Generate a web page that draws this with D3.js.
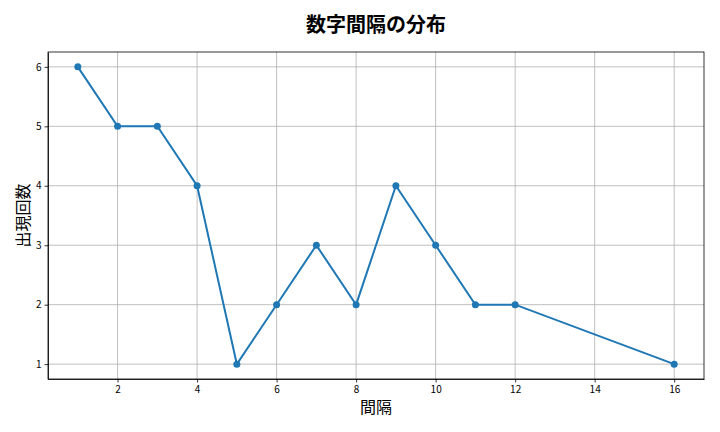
<!DOCTYPE html>
<html>
<head>
<meta charset="utf-8">
<script src="https://cdn.jsdelivr.net/npm/d3@7"></script>
<style>
body { margin: 0; background: #fff; }
text { font-family: "Noto Sans CJK JP", "DejaVu Sans", sans-serif; }
.grid line { stroke: #b0b0b0; stroke-width: 0.8; }
.axis path, .axis line { stroke: #000; stroke-width: 0.8; }
.axis text { font-size: 10px; fill: #000; }
</style>
</head>
<body>
<div id="chart"></div>
<script>
// data
var gaps = [1, 2, 3, 4, 5, 6, 7, 8, 9, 10, 11, 12, 16];
var counts = [6, 5, 5, 4, 1, 2, 3, 2, 4, 3, 2, 2, 1];
var xTicks = [2, 4, 6, 8, 10, 12, 14, 16];
var yTicks = [1, 2, 3, 4, 5, 6];

var W = 720, H = 432;
var m = {left: 48, right: 16, top: 52, bottom: 53};
var w = W - m.left - m.right, h = H - m.top - m.bottom;

var svg = d3.select("#chart").append("svg")
  .attr("width", W).attr("height", H);
var g = svg.append("g").attr("transform", "translate(" + m.left + "," + m.top + ")");

var x = d3.scaleLinear().domain([0.25, 16.75]).range([0, w]);
var y = d3.scaleLinear().domain([0.75, 6.25]).range([h, 0]);

// grid
g.append("g").attr("class", "grid").selectAll("line").data(xTicks).enter().append("line")
  .attr("x1", function(d) { return x(d); }).attr("x2", function(d) { return x(d); })
  .attr("y1", 0).attr("y2", h);
g.append("g").attr("class", "grid").selectAll("line").data(yTicks).enter().append("line")
  .attr("y1", function(d) { return y(d); }).attr("y2", function(d) { return y(d); })
  .attr("x1", 0).attr("x2", w);

// axes
g.append("g").attr("class", "axis")
  .attr("transform", "translate(0," + h + ")")
  .call(d3.axisBottom(x).tickValues(xTicks).tickSize(3.5).tickSizeOuter(0).tickPadding(3).tickFormat(d3.format("d")));
g.append("g").attr("class", "axis")
  .call(d3.axisLeft(y).tickValues(yTicks).tickSize(3.5).tickSizeOuter(0).tickPadding(3).tickFormat(d3.format("d")));
g.append("rect").attr("width", w).attr("height", h)
  .attr("fill", "none").attr("stroke", "#000").attr("stroke-width", 0.8);

// line
var data = gaps.map(function(d, i) { return {x: d, y: counts[i]}; });
g.append("path").datum(data)
  .attr("fill", "none").attr("stroke", "#1f77b4").attr("stroke-width", 2)
  .attr("d", d3.line().x(function(d) { return x(d.x); }).y(function(d) { return y(d.y); }));
g.selectAll("circle").data(data).enter().append("circle")
  .attr("cx", function(d) { return x(d.x); })
  .attr("cy", function(d) { return y(d.y); })
  .attr("r", 3.5).attr("fill", "#1f77b4");

// labels
svg.append("text").attr("x", m.left + w / 2).attr("y", 32)
  .attr("text-anchor", "middle").attr("font-size", 20).attr("font-weight", "bold")
  .text("数字間隔の分布");
svg.append("text").attr("x", m.left + w / 2).attr("y", 413)
  .attr("text-anchor", "middle").attr("font-size", 16).text("間隔");
svg.append("text").attr("transform", "translate(29," + (m.top + h / 2) + ") rotate(-90)")
  .attr("text-anchor", "middle").attr("font-size", 16).text("出現回数");
</script>
</body>
</html>
